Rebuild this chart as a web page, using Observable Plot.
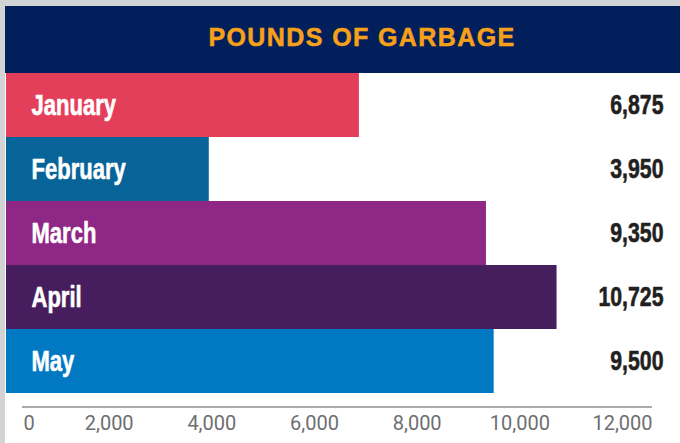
<!DOCTYPE html>
<html>
<head>
<meta charset="utf-8">
<script src="https://cdn.jsdelivr.net/npm/d3@7"></script>
<script src="https://cdn.jsdelivr.net/npm/@observablehq/plot@0.6"></script>
<style>
  html, body { margin: 0; padding: 0; }
  body { width: 680px; height: 443px; position: relative; overflow: hidden; background: #d1d3d4; }
  #panel { position: absolute; left: 5px; top: 6px; right: 0; bottom: 0; background: #fff; }
  #header { position: absolute; left: 5px; top: 6px; width: 675px; height: 67px; background: #001f5b;
    color: #f7a11a; font: bold 25px "Liberation Sans", Arial, sans-serif; letter-spacing: 1.4px;
    -webkit-text-stroke: 0.5px #f7a11a;
    display: flex; align-items: center; justify-content: center; padding-left: 39px; padding-bottom: 4px; box-sizing: border-box; }
  #axisline { position: absolute; left: 22px; top: 406px; width: 630px; height: 0; border-top: 2px solid #a9abae; }
  #chart { position: absolute; left: 0; top: 73px; }
</style>
</head>
<body>
<div id="panel"></div>
<div id="header">POUNDS OF GARBAGE</div>
<div id="axisline"></div>
<div id="chart"></div>
<script>
const months = ["January", "February", "March", "April", "May"];
const pounds = [6875, 3950, 9350, 10725, 9500];
const barColors = ["#e43f5a", "#066499", "#8f2786", "#461e5d", "#0079c2"];
const xTicks = [0, 2000, 4000, 6000, 8000, 10000, 12000];

const data = months.map((m, i) => ({month: m, value: pounds[i]}));
const fmt = d3.format(",");
const boldFont = "'Liberation Sans', Arial, sans-serif";

const chart = Plot.plot({
  width: 680,
  height: 370,
  marginLeft: 6,
  marginRight: 17,
  marginTop: 0,
  marginBottom: 50,
  style: {background: "transparent"},
  x: {domain: [0, 12000], range: [6, 622], axis: null},
  y: {domain: months, range: [0, 320], padding: 0, axis: null},
  color: {domain: months, range: barColors},
  marks: [
    Plot.barX(data, {x: "value", y: "month", fill: "month"}),
    Plot.text(data, {y: "month", text: "month", frameAnchor: "left", dx: 25, textAnchor: "start",
      fill: "white", stroke: "white", strokeWidth: 0.6, fontFamily: boldFont, fontWeight: "bold", fontSize: 29, className: "cond"}),
    Plot.text(data, {y: "month", text: d => fmt(d.value), frameAnchor: "right", textAnchor: "end",
      fill: "#231f20", stroke: "#231f20", strokeWidth: 0.6, fontFamily: boldFont, fontWeight: "bold", fontSize: 28, className: "cond"}),
    Plot.text(xTicks.filter(t => t !== 0), {x: d => d, text: d => fmt(d), frameAnchor: "bottom", dy: 30,
      textAnchor: "middle", lineAnchor: "middle", fill: "#6d6e71", fontFamily: "Roboto, sans-serif", fontSize: 20}),
    Plot.text(xTicks.filter(t => t === 0), {x: d => d, text: d => fmt(d), frameAnchor: "bottom", dy: 30, dx: 17,
      textAnchor: "start", lineAnchor: "middle", fill: "#6d6e71", fontFamily: "Roboto, sans-serif", fontSize: 20})
  ]
});
// condense the bold labels horizontally (the original uses a condensed face)
chart.querySelectorAll(".cond text").forEach(t => {
  const tr = t.getAttribute("transform") || "";
  t.setAttribute("transform", tr + " scale(0.76,1)");
});
document.getElementById("chart").appendChild(chart);
</script>
</body>
</html>
